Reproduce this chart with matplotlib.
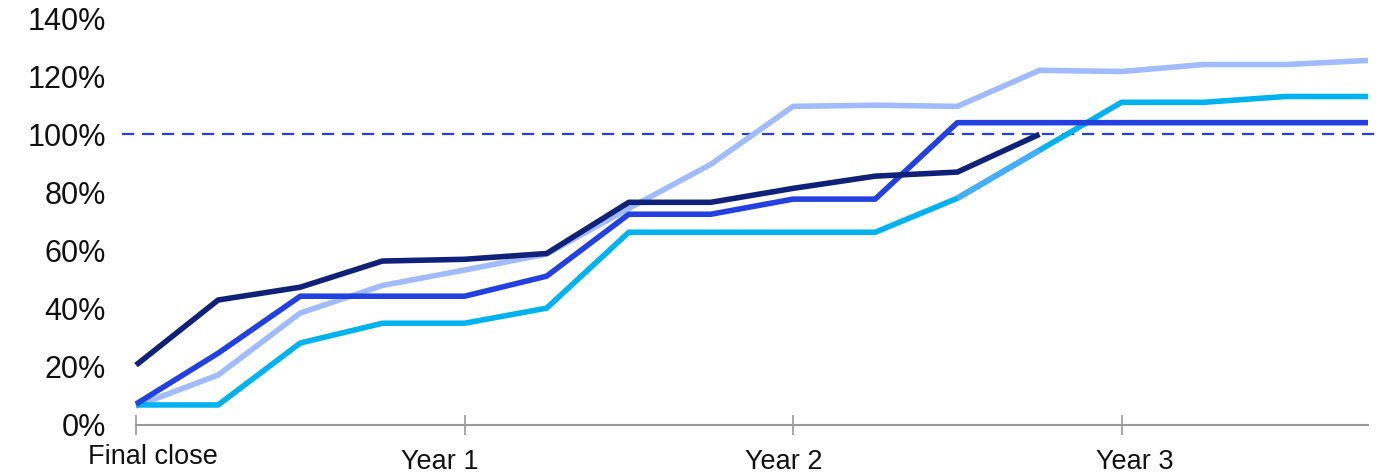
import numpy as np
import matplotlib
matplotlib.use('Agg')
import matplotlib.pyplot as plt

# quarters since final close
quarters = np.arange(16)
tick_pos = [0, 4, 8, 12]
tick_labels = ['Final close', 'Year 1', 'Year 2', 'Year 3']
label_pos = [0.21, 3.70, 7.89, 12.16]

# called capital, % of commitments
fund_navy = [20.6, 43.0, 47.4, 56.4, 57.0, 59.0, 76.6, 76.6, 81.4, 85.6, 87.0, 100.0]
fund_blue = [7.2, 24.7, 44.3, 44.3, 44.3, 51.2, 72.5, 72.5, 77.7, 77.7, 104.0,
             104.0, 104.0, 104.0, 104.0, 104.0]
fund_light = [6.5, 17.2, 38.5, 48.0, 53.3, 58.8, 74.5, 89.7, 109.6, 110.0, 109.6,
              122.0, 121.6, 124.0, 124.0, 125.4]
fund_cyan = [6.9, 6.9, 28.2, 35.0, 35.0, 40.2, 66.3, 66.3, 66.3, 66.3, 78.0,
             94.5, 111.0, 111.0, 113.0, 113.0]

plt.rcParams['font.family'] = ['Liberation Sans', 'DejaVu Sans']

fig = plt.figure(figsize=(13.94, 4.74), dpi=100)
ax = fig.add_axes([122 / 1394, 49 / 474, 1258 / 1394, 407 / 474])

lw = 4.0
ax.axhline(100, color='#2341e0', lw=1.6, ls=(0, (5.5, 3.5)), zorder=1)
ax.plot(quarters, fund_light, color='#a0bbff', lw=lw, solid_capstyle='butt', zorder=2)
ax.plot(quarters, fund_cyan, color='#00b2f0', lw=lw, solid_capstyle='butt', zorder=3)
ax.plot(quarters[10:12], fund_cyan[10:12], color='#44aefc', lw=lw,
        solid_capstyle='butt', zorder=3)
ax.plot(quarters, fund_blue, color='#2341e0', lw=lw, solid_capstyle='butt', zorder=4)
ax.plot(quarters[:len(fund_navy)], fund_navy, color='#0f2179', lw=lw,
        solid_capstyle='butt', zorder=5)

ax.set_xlim(-14 / 82.13, 15 + 12 / 82.13)
ax.set_ylim(0, 140)
ax.set_yticks(np.arange(0, 141, 20))
ax.set_yticklabels(['%d%%' % v for v in range(0, 141, 20)])

for s in ['top', 'right', 'left']:
    ax.spines[s].set_visible(False)
ax.spines['bottom'].set_color('#999999')
ax.spines['bottom'].set_linewidth(1.5)
ax.spines['bottom'].set_bounds(0, 15)

ax.set_xticks(tick_pos)
ax.set_xticklabels([])
ax.tick_params(axis='x', direction='inout', length=14, width=1.2, color='#999999')
ax.tick_params(axis='y', length=0, pad=11.5, labelsize=22, labelcolor='#111111')

# category labels sit a little off the ticks, "Final close" higher than the years
for i, (pos, lab) in enumerate(zip(label_pos, tick_labels)):
    ax.text(pos, -6.6 if i == 0 else -8.4, lab, ha='center', va='top',
            fontsize=19.5, color='#111111', clip_on=False)

fig.savefig('out.png', dpi=100)
